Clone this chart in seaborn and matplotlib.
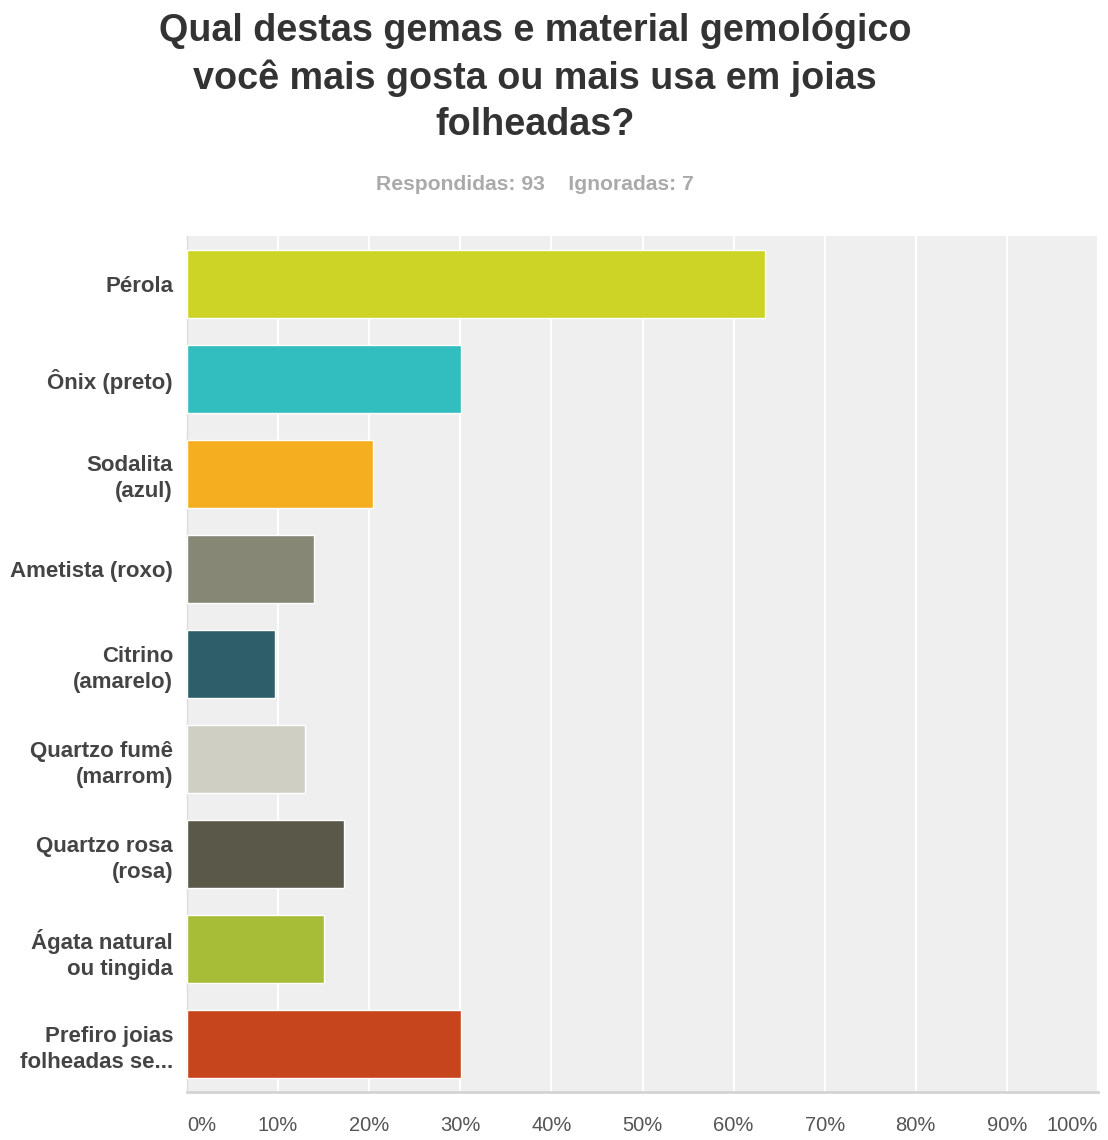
import matplotlib
matplotlib.use("Agg")
import matplotlib.pyplot as plt
import seaborn as sns
import pandas as pd

categories = ["Pérola", "Ônix (preto)", "Sodalita\n(azul)", "Ametista (roxo)",
              "Citrino\n(amarelo)", "Quartzo fumê\n(marrom)", "Quartzo rosa\n(rosa)",
              "Ágata natural\nou tingida", "Prefiro joias\nfolheadas se..."]
values = [63.44, 30.11, 20.43, 13.98, 9.68, 12.90, 17.20, 15.05, 30.11]
colors = ["#cdd426", "#32bdbf", "#f5ae1f", "#878776", "#2f5e6b",
          "#d0cfc3", "#5a5849", "#a7bd38", "#c7451d"]
tick_values = [0, 10, 20, 30, 40, 50, 60, 70, 80, 90, 100]
tick_labels = ["0%", "10%", "20%", "30%", "40%", "50%", "60%", "70%", "80%", "90%", "100%"]
title = "Qual destas gemas e material gemológico\nvocê mais gosta ou mais usa em joias\nfolheadas?"
subtitle = "Respondidas: 93    Ignoradas: 7"

sns.set_theme(style="white")
plt.rcParams['font.family'] = ['Liberation Sans', 'DejaVu Sans']

df = pd.DataFrame({"cat": categories, "val": values})

fig = plt.figure(figsize=(11.08, 11.40), dpi=100)
W, H = 1108, 1140
ax = fig.add_axes([187 / W, 1 - 1092 / H, (1098 - 187) / W, (1092 - 236) / H])
ax.set_facecolor("#efefef")

sns.barplot(data=df, y="cat", x="val", hue="cat", palette=colors, legend=False,
            orient="h", width=0.716, ax=ax, saturation=1, zorder=3)

ax.set_xlim(0, 100)
ax.set_ylim(len(categories) - 0.5, -0.5)
ax.set_xticks(tick_values)
ax.set_xticklabels(tick_labels)
ax.grid(axis="x", color="white", linewidth=1.5, zorder=0)
ax.set_axisbelow(True)
ax.set_xlabel("")
ax.set_ylabel("")

for s in ["top", "right"]:
    ax.spines[s].set_visible(False)
ax.spines["left"].set_color("#dcdcdc")
ax.spines["left"].set_linewidth(1.0)
ax.spines["bottom"].set_color("#d4d4d4")
ax.spines["bottom"].set_linewidth(2.0)

ax.tick_params(axis="x", length=0, pad=17, labelsize=14.5, labelcolor="#555555")
ax.tick_params(axis="y", length=0, pad=10, labelsize=16, labelcolor="#444444")
for lbl in ax.get_yticklabels():
    lbl.set_fontweight("bold")
    lbl.set_horizontalalignment("right")
    lbl.set_multialignment("right")
    lbl.set_linespacing(1.32)
xl = ax.get_xticklabels()
for lbl in xl:
    lbl.set_family(['Liberation Sans Narrow', 'Liberation Sans', 'DejaVu Sans'])
xl[0].set_horizontalalignment("left")
xl[-1].set_horizontalalignment("right")

fig.text(535 / W, 1 - 78 / H, title, ha="center", va="center", fontsize=27.2,
         fontweight="bold", color="#333333", linespacing=1.36)
fig.text(535 / W, 1 - 185 / H, subtitle, ha="center", va="center", fontsize=15.2,
         fontweight="bold", color="#aaaaaa")

fig.savefig("out.png", dpi=100, facecolor="white")
